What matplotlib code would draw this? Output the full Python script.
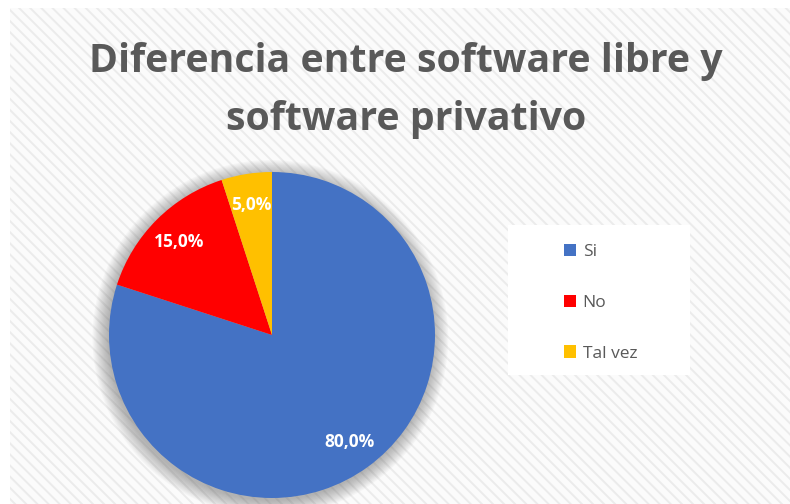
import matplotlib
matplotlib.use('Agg')
import matplotlib.pyplot as plt
from matplotlib.patches import Rectangle, Circle
import numpy as np

# data
labels = ['Si', 'No', 'Tal vez']
values = [80, 15, 5]
colors = ['#4472C4', '#FF0000', '#FFC000']
title_lines = ['Diferencia entre software libre y', 'software privativo']

plt.rcParams['font.family'] = ['Open Sans', 'DejaVu Sans']
plt.rcParams['hatch.linewidth'] = 1.4

W, H = 790, 504
fig = plt.figure(figsize=(W / 100, H / 100), dpi=100)
fig.patch.set_facecolor('white')

# striped chart area background
bg = fig.add_axes([0, 0, 1, 1])
bg.set_xlim(0, W)
bg.set_ylim(H, 0)
bg.axis('off')
bg.add_patch(Rectangle((10, 8), W - 10, H - 8, facecolor='#fbfbfb',
                       edgecolor='#ebebeb', hatch='\\\\\\', linewidth=0))
# legend box
bg.add_patch(Rectangle((508, 225), 182, 150, facecolor='white', edgecolor='none'))

# title
for i, line in enumerate(title_lines):
    fig.text(406 / W, 1 - (72 + i * 58) / H, line, ha='center', va='baseline',
             fontsize=28.3, fontweight='bold', color='#595959')

# pie
cx, cy, r = 272, 335, 163
ax = fig.add_axes([(cx - r) / W, (H - cy - r) / H, 2 * r / W, 2 * r / H])
ax.set_xlim(-1, 1)
ax.set_ylim(-1, 1)
ax.axis('off')

# soft shadow
for k in range(14):
    ax.add_patch(Circle((-0.01, -0.018), 1.0 + 0.007 * k, facecolor='#606060',
                        edgecolor='none', alpha=0.04, zorder=0, clip_on=False))

wedges, texts, autotexts = ax.pie(
    values, colors=colors, startangle=90, counterclock=False, radius=1,
    autopct=lambda p: ('%.1f%%' % p).replace('.', ','), pctdistance=0.81,
    wedgeprops=dict(linewidth=0), frame=False)
for t in autotexts:
    t.set_color('white')
    t.set_fontsize(12.5)
    t.set_fontweight('bold')
ax.set_xlim(-1, 1)
ax.set_ylim(-1, 1)

leg = fig.legend(wedges, labels, loc='upper left',
                 bbox_to_anchor=(548 / W, 1 - 228 / H), frameon=False,
                 fontsize=12.5, handlelength=0.7, handleheight=0.7,
                 handletextpad=0.4, labelspacing=2.0)
for t in leg.get_texts():
    t.set_color('#595959')

fig.savefig('out.png', dpi=100)
